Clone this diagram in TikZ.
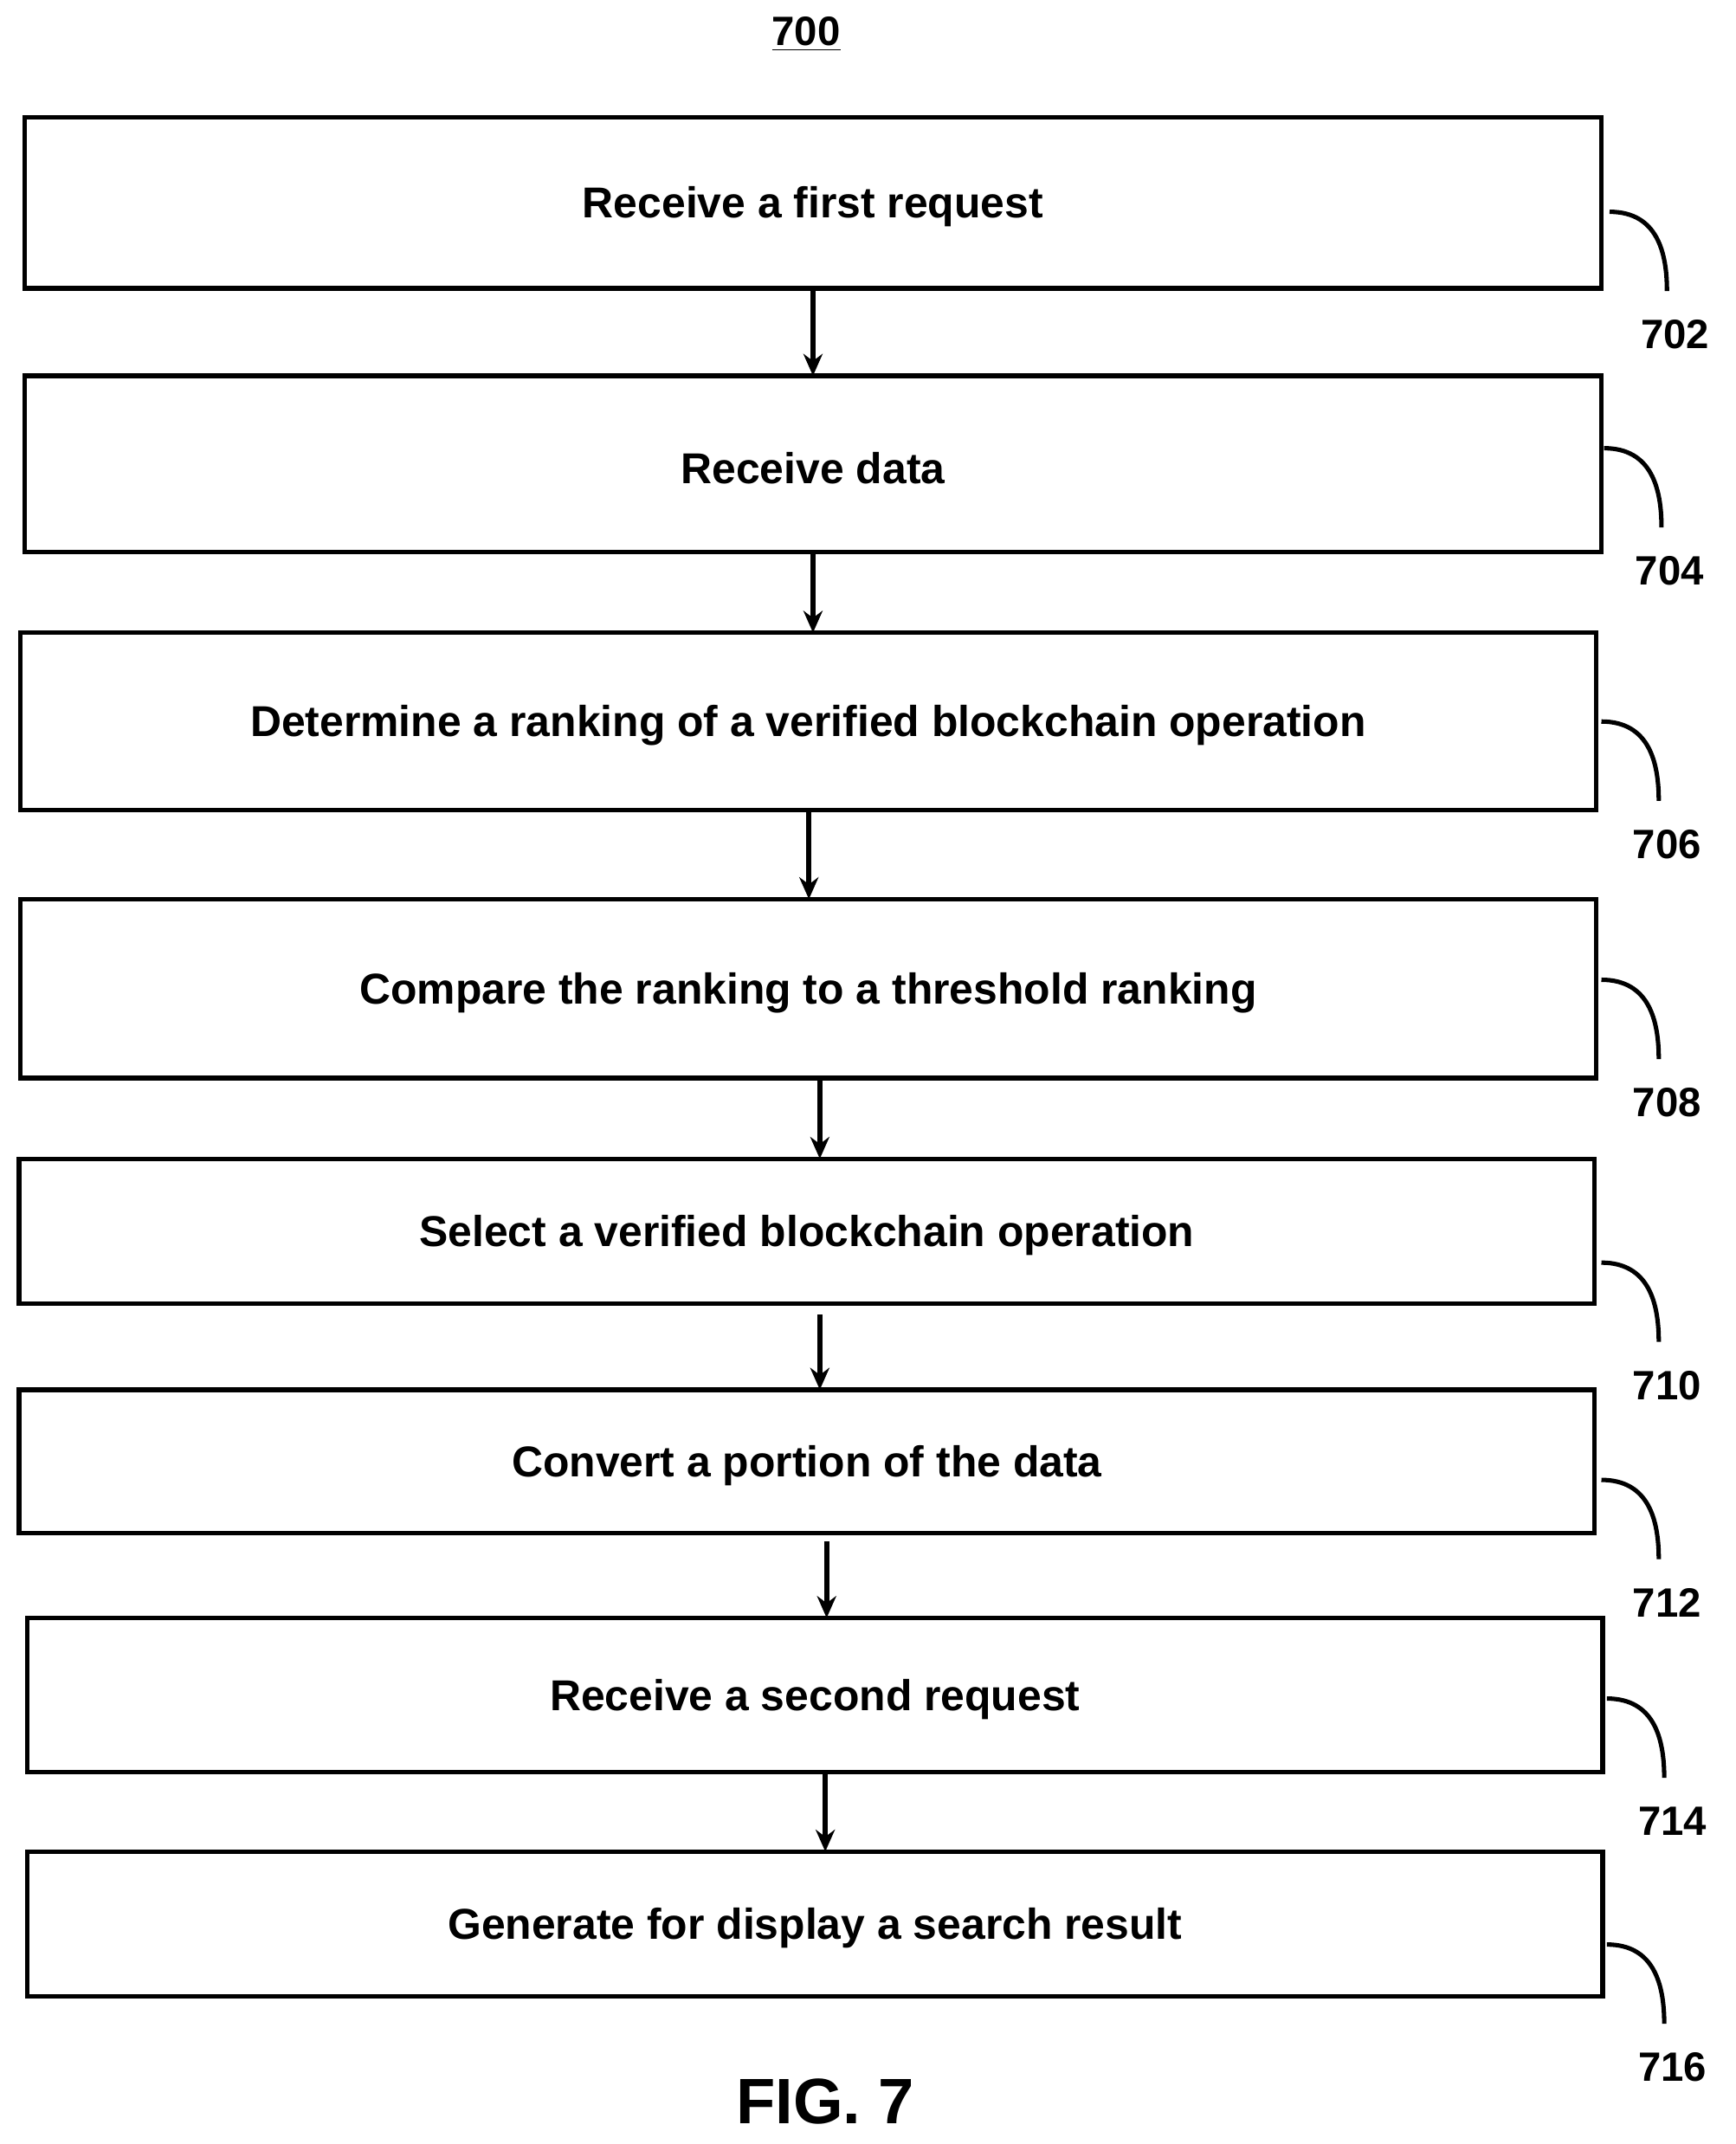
\documentclass[tikz,border=0pt]{standalone}
\usepackage{fontspec}
\setmainfont{Liberation Sans}
\usetikzlibrary{arrows.meta}
\begin{document}
\begin{tikzpicture}[x=0.5pt,y=-0.5pt,
 box/.style={draw,line width=1.6pt,inner sep=0,font=\fontsize{15.8}{18}\selectfont\bfseries},
 arr/.style={-{Stealth[length=8pt,width=7pt]},line width=1.8pt},
 hook/.style={line width=1.6pt},
 lab/.style={font=\fontsize{15}{17}\selectfont\bfseries}]
\useasboundingbox (0,0) rectangle (1270,1569);
\node[lab] (t) at (590,25) {\underline{700}};
\def\B#1#2#3#4#5#6{\draw[line width=1.7pt] (#2,#3) rectangle (#4,#5); \node[box,draw=none] (#1) at ({(#2+#4)/2},{(#3+#5)/2+3}) {#6};}
\B{a}{18}{86}{1172}{211}{Receive a first request}
\B{b}{18}{275}{1172}{404}{Receive data}
\B{c}{15}{463}{1168}{593}{Determine a ranking of a verified blockchain operation}
\B{d}{15}{658}{1168}{789}{Compare the ranking to a threshold ranking}
\B{e}{14}{848}{1167}{954}{Select a verified blockchain operation}
\B{f}{14}{1017}{1167}{1122}{Convert a portion of the data}
\B{g}{20}{1184}{1173}{1297}{Receive a second request}
\B{h}{20}{1355}{1173}{1461}{Generate for display a search result}
\coordinate (a1) at (595,211); \coordinate (a2) at (595,275);
\draw[arr] (a1) -- (a2);
\coordinate (b1) at (595,404); \coordinate (b2) at (595,463);
\draw[arr] (b1) -- (b2);
\coordinate (c1) at (592,593); \coordinate (c2) at (592,658);
\draw[arr] (c1) -- (c2);
\coordinate (d1) at (600,789); \coordinate (d2) at (600,848);
\draw[arr] (d1) -- (d2);
\coordinate (e1) at (600,962); \coordinate (e2) at (600,1017);
\draw[arr] (e1) -- (e2);
\coordinate (f1) at (605,1128); \coordinate (f2) at (605,1184);
\draw[arr] (f1) -- (f2);
\coordinate (g1) at (604,1297); \coordinate (g2) at (604,1355);
\draw[arr] (g1) -- (g2);
\def\H#1#2#3#4#5{\coordinate (#1s) at (#2,#3); \coordinate (#1e) at ({#2+42},{#3+58});
 \draw[hook] (#1s) .. controls ({#2+35},#3) and ({#2+42},{#3+30}) .. (#1e);
 \node[lab] (#1l) at ({#2+48},{#3+90}) {#5};}
\H{ha}{1178}{155}{}{702}
\H{hb}{1174}{328}{}{704}
\H{hc}{1172}{528}{}{706}
\H{hd}{1172}{717}{}{708}
\H{he}{1172}{924}{}{710}
\H{hf}{1172}{1083}{}{712}
\H{hg}{1176}{1243}{}{714}
\H{hh}{1176}{1423}{}{716}
\node[font=\fontsize{23.5}{28}\selectfont\bfseries] (fig) at (604,1538) {FIG. 7};
\end{tikzpicture}
\end{document}
